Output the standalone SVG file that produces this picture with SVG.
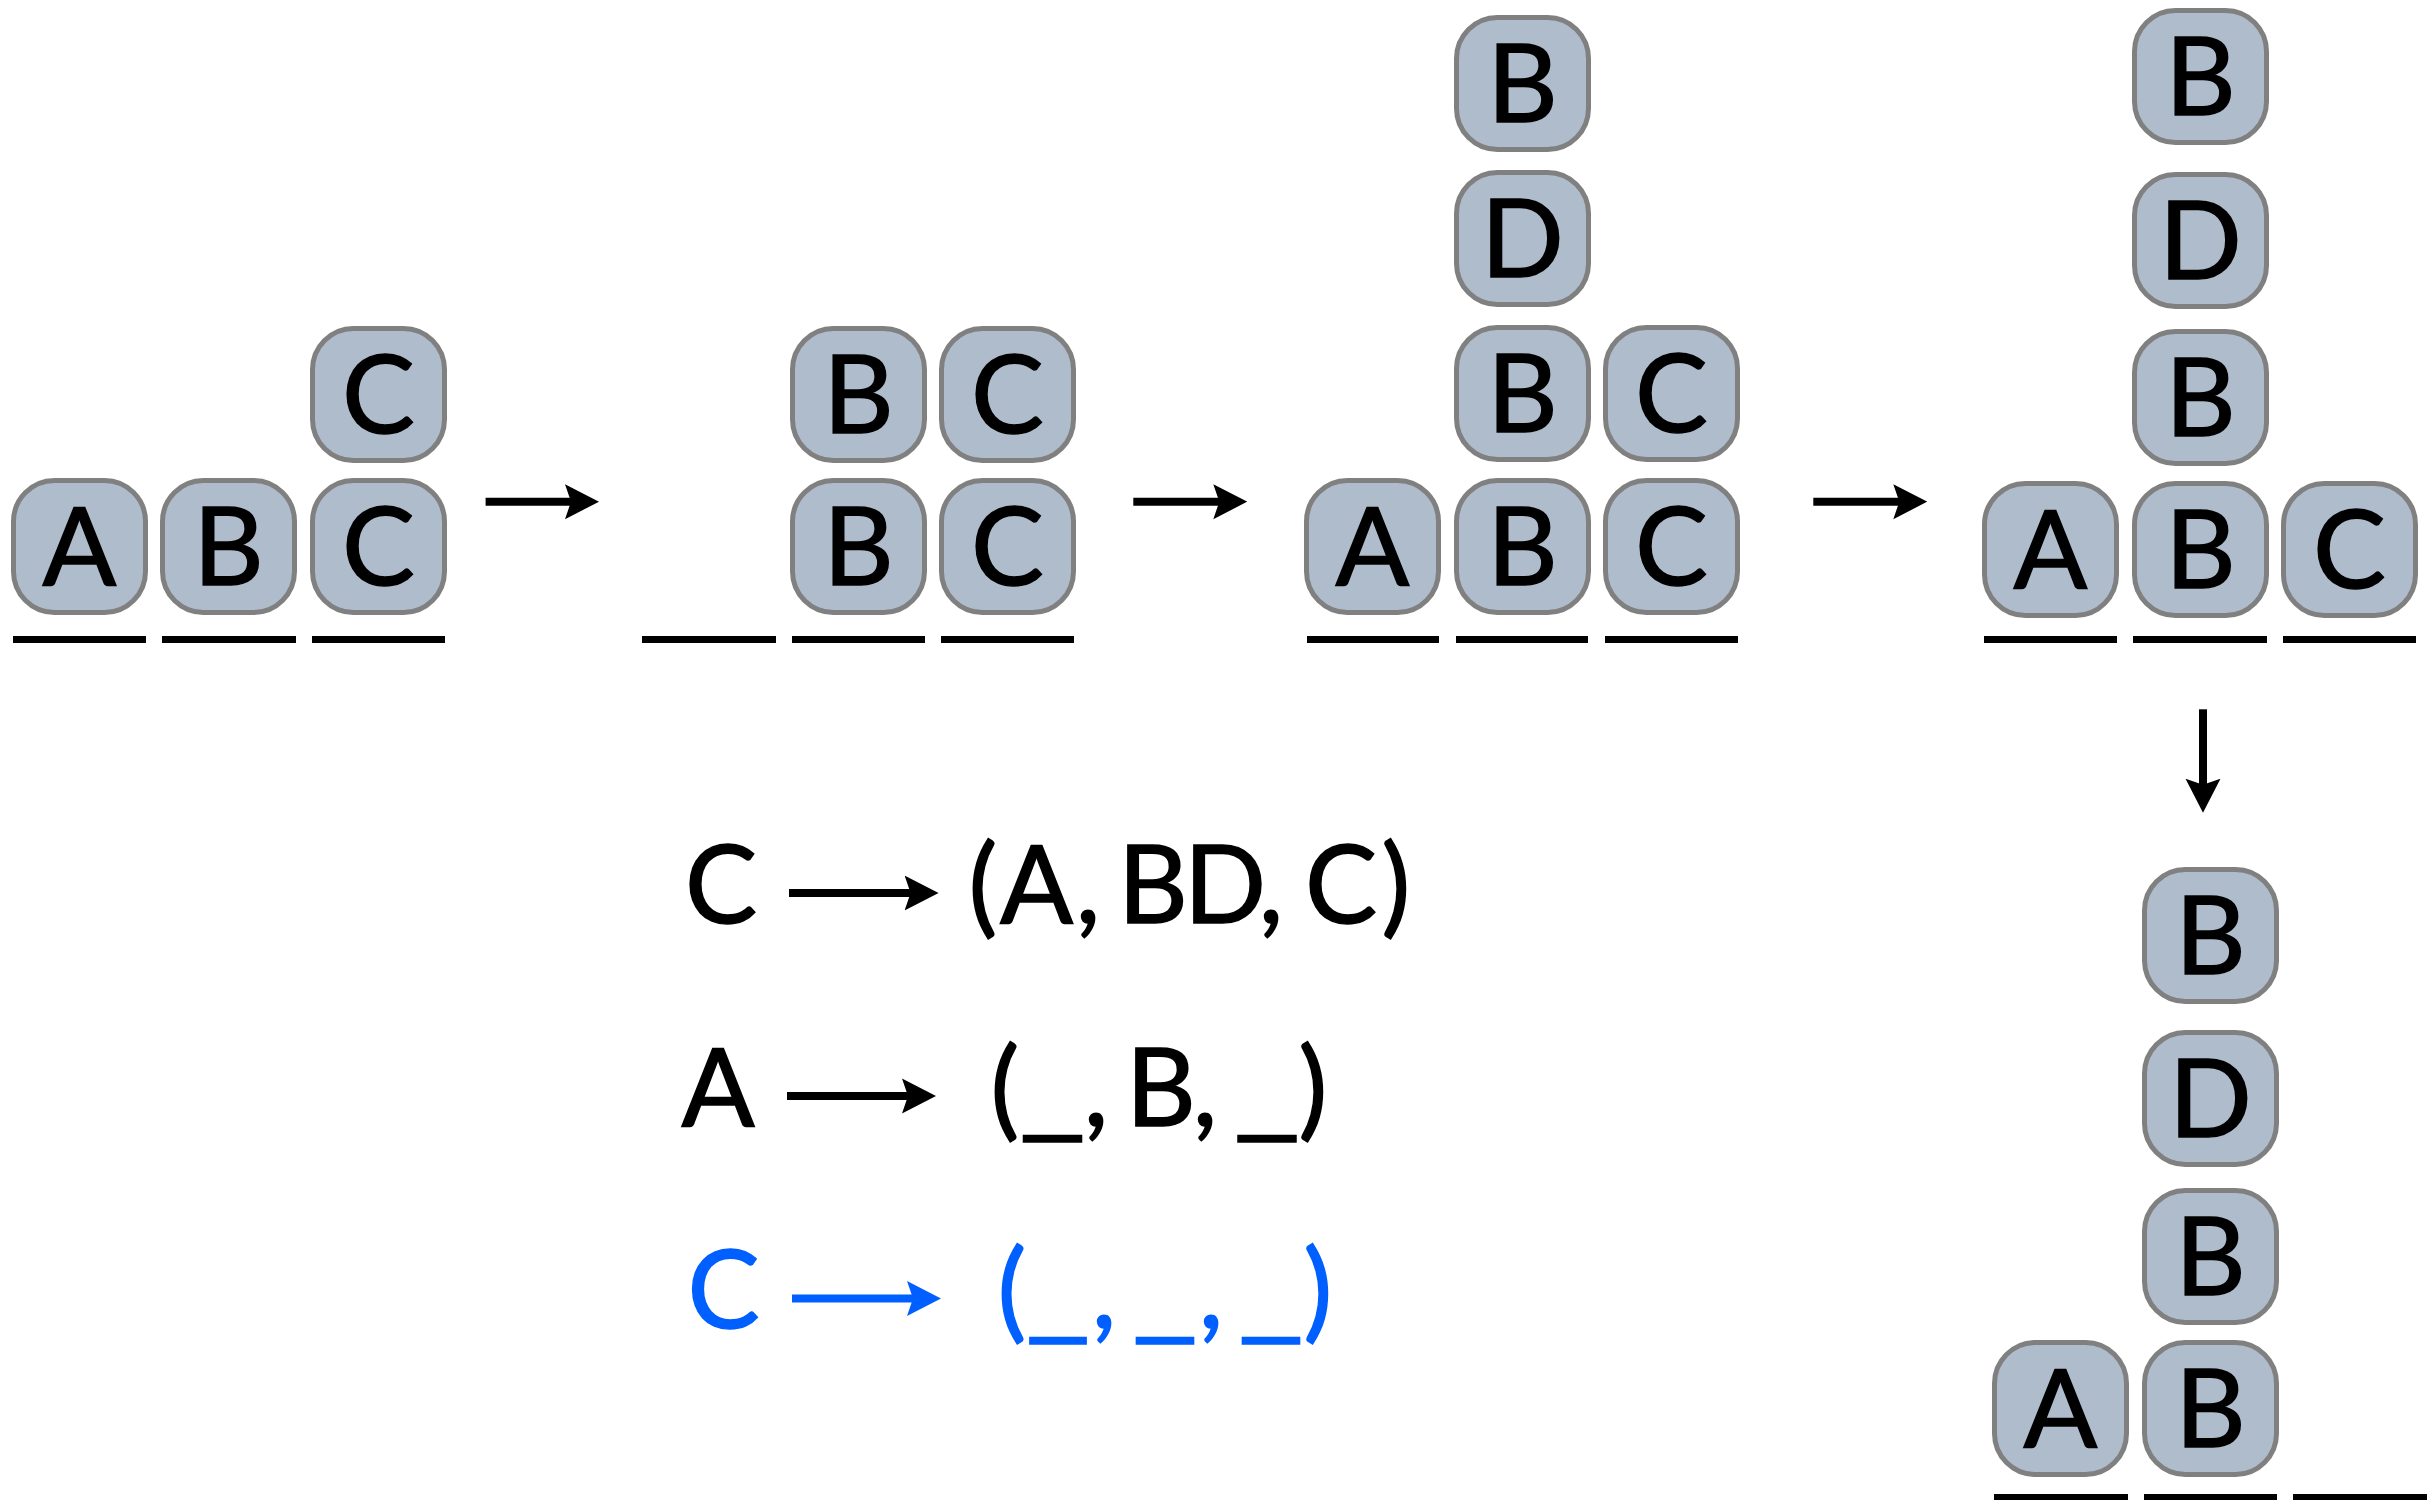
<svg xmlns="http://www.w3.org/2000/svg" width="2432" height="1500" viewBox="0 0 2432 1500">
<style>
.box rect{fill:#AFBCCB;stroke:#808080;stroke-width:5}
.box text{font-family:Lato,"Open Sans","Liberation Sans",sans-serif;font-size:109px;fill:#000;stroke:#000;stroke-width:1.5;text-anchor:middle}
.slot{fill:#000}
.eq{font-family:Lato,"Open Sans","Liberation Sans",sans-serif;font-size:108px;text-anchor:middle;stroke-width:1.5}
.blk{fill:#000;stroke:#000}
.blue{fill:#005FFF;stroke:#005FFF}
.arr{stroke:#000;stroke-width:8;fill:none}
.arrb{stroke:#005FFF;stroke-width:8;fill:none}
</style>
<defs>
<marker id="ah" viewBox="-34 -18 34 36" refX="-26" refY="0" markerWidth="34" markerHeight="36" markerUnits="userSpaceOnUse" orient="auto">
<path d="M0,0 L-34,-17.5 L-28,0 L-34,17.5 Z" fill="#000"/>
</marker>
<marker id="ahb" viewBox="-34 -18 34 36" refX="-26" refY="0" markerWidth="34" markerHeight="36" markerUnits="userSpaceOnUse" orient="auto">
<path d="M0,0 L-34,-17.5 L-28,0 L-34,17.5 Z" fill="#005FFF"/>
</marker>
</defs>
<rect width="2432" height="1500" fill="#fff"/>

<!-- Stage 1 -->
<g id="s1-slots" class="slot">
<rect x="13" y="636" width="133" height="7"/><rect x="162" y="636" width="134" height="7"/><rect x="312" y="636" width="133" height="7"/>
</g>
<g id="s1-A" class="box" transform="translate(11,478)"><rect x="2.5" y="2.5" width="132" height="132" rx="41"/><text x="68.5" y="107">A</text></g>
<g id="s1-B" class="box" transform="translate(160,478)"><rect x="2.5" y="2.5" width="132" height="132" rx="41"/><text x="68.5" y="107">B</text></g>
<g id="s1-C1" class="box" transform="translate(310,478)"><rect x="2.5" y="2.5" width="132" height="132" rx="41"/><text x="68.5" y="107">C</text></g>
<g id="s1-C2" class="box" transform="translate(310,326)"><rect x="2.5" y="2.5" width="132" height="132" rx="41"/><text x="68.5" y="107">C</text></g>

<!-- Stage 2 -->
<g id="s2-slots" class="slot">
<rect x="642" y="636" width="134" height="7"/><rect x="792" y="636" width="133" height="7"/><rect x="941" y="636" width="133" height="7"/>
</g>
<g id="s2-B1" class="box" transform="translate(790,478)"><rect x="2.5" y="2.5" width="132" height="132" rx="41"/><text x="68.5" y="107">B</text></g>
<g id="s2-C1" class="box" transform="translate(939,478)"><rect x="2.5" y="2.5" width="132" height="132" rx="41"/><text x="68.5" y="107">C</text></g>
<g id="s2-B2" class="box" transform="translate(790,326)"><rect x="2.5" y="2.5" width="132" height="132" rx="41"/><text x="68.5" y="107">B</text></g>
<g id="s2-C2" class="box" transform="translate(939,326)"><rect x="2.5" y="2.5" width="132" height="132" rx="41"/><text x="68.5" y="107">C</text></g>

<!-- Stage 3 -->
<g id="s3-slots" class="slot">
<rect x="1307" y="636" width="132" height="7"/><rect x="1456" y="636" width="132" height="7"/><rect x="1605" y="636" width="133" height="7"/>
</g>
<g id="s3-A" class="box" transform="translate(1304,478)"><rect x="2.5" y="2.5" width="132" height="132" rx="41"/><text x="68.5" y="107">A</text></g>
<g id="s3-B1" class="box" transform="translate(1454,478)"><rect x="2.5" y="2.5" width="132" height="132" rx="41"/><text x="68.5" y="107">B</text></g>
<g id="s3-C1" class="box" transform="translate(1603,478)"><rect x="2.5" y="2.5" width="132" height="132" rx="41"/><text x="68.5" y="107">C</text></g>
<g id="s3-B2" class="box" transform="translate(1454,325)"><rect x="2.5" y="2.5" width="132" height="132" rx="41"/><text x="68.5" y="107">B</text></g>
<g id="s3-C2" class="box" transform="translate(1603,325)"><rect x="2.5" y="2.5" width="132" height="132" rx="41"/><text x="68.5" y="107">C</text></g>
<g id="s3-D" class="box" transform="translate(1454,170)"><rect x="2.5" y="2.5" width="132" height="132" rx="41"/><text x="68.5" y="107">D</text></g>
<g id="s3-B3" class="box" transform="translate(1454,15)"><rect x="2.5" y="2.5" width="132" height="132" rx="41"/><text x="68.5" y="107">B</text></g>

<!-- Stage 4 -->
<g id="s4-slots" class="slot">
<rect x="1984" y="636" width="133" height="7"/><rect x="2133" y="636" width="134" height="7"/><rect x="2283" y="636" width="133" height="7"/>
</g>
<g id="s4-A" class="box" transform="translate(1982,481)"><rect x="2.5" y="2.5" width="132" height="132" rx="41"/><text x="68.5" y="107">A</text></g>
<g id="s4-B1" class="box" transform="translate(2132,481)"><rect x="2.5" y="2.5" width="132" height="132" rx="41"/><text x="68.5" y="107">B</text></g>
<g id="s4-C" class="box" transform="translate(2281,481)"><rect x="2.5" y="2.5" width="132" height="132" rx="41"/><text x="68.5" y="107">C</text></g>
<g id="s4-B2" class="box" transform="translate(2132,329)"><rect x="2.5" y="2.5" width="132" height="132" rx="41"/><text x="68.5" y="107">B</text></g>
<g id="s4-D" class="box" transform="translate(2132,172)"><rect x="2.5" y="2.5" width="132" height="132" rx="41"/><text x="68.5" y="107">D</text></g>
<g id="s4-B3" class="box" transform="translate(2132,8)"><rect x="2.5" y="2.5" width="132" height="132" rx="41"/><text x="68.5" y="107">B</text></g>

<!-- Stage 5 -->
<g id="s5-slots" class="slot">
<rect x="1994" y="1494" width="134" height="7"/><rect x="2144" y="1494" width="133" height="7"/><rect x="2293" y="1494" width="134" height="7"/>
</g>
<g id="s5-A" class="box" transform="translate(1992,1340)"><rect x="2.5" y="2.5" width="132" height="132" rx="41"/><text x="68.5" y="107">A</text></g>
<g id="s5-B1" class="box" transform="translate(2142,1340)"><rect x="2.5" y="2.5" width="132" height="132" rx="41"/><text x="68.5" y="107">B</text></g>
<g id="s5-B2" class="box" transform="translate(2142,1188)"><rect x="2.5" y="2.5" width="132" height="132" rx="41"/><text x="68.5" y="107">B</text></g>
<g id="s5-D" class="box" transform="translate(2142,1030)"><rect x="2.5" y="2.5" width="132" height="132" rx="41"/><text x="68.5" y="107">D</text></g>
<g id="s5-B3" class="box" transform="translate(2142,867)"><rect x="2.5" y="2.5" width="132" height="132" rx="41"/><text x="68.5" y="107">B</text></g>

<!-- Equations -->
<g id="eq1">
<text class="eq blk" x="721" y="923">C</text>
<text class="eq blk" x="983 1036.5 1088 1105 1153 1225 1271 1290 1341 1396" y="923">(A, BD, C)</text>
</g>
<g id="eq2">
<text class="eq blk" x="718" y="1126">A</text>
<text class="eq blk" y="1126"><tspan x="1005">(</tspan><tspan x="1052.5" textLength="67" lengthAdjust="spacingAndGlyphs">_</tspan><tspan x="1096">,</tspan><tspan x="1112"> </tspan><tspan x="1161">B</tspan><tspan x="1205">,</tspan><tspan x="1220"> </tspan><tspan x="1267" textLength="67" lengthAdjust="spacingAndGlyphs">_</tspan><tspan x="1313">)</tspan></text>
</g>
<g id="eq3">
<text class="eq blue" x="723.5" y="1328">C</text>
<text class="eq blue" y="1328"><tspan x="1012">(</tspan><tspan x="1058" textLength="65" lengthAdjust="spacingAndGlyphs">_</tspan><tspan x="1104">,</tspan><tspan x="1115"> </tspan><tspan x="1165" textLength="66" lengthAdjust="spacingAndGlyphs">_</tspan><tspan x="1211">,</tspan><tspan x="1222"> </tspan><tspan x="1271" textLength="66" lengthAdjust="spacingAndGlyphs">_</tspan><tspan x="1318">)</tspan></text>
</g>

<!-- Connectors -->
<g id="connectors">
<line class="arr" x1="485.6" y1="501.7" x2="573" y2="501.7" marker-end="url(#ah)"/>
<line class="arr" x1="1133.3" y1="501.7" x2="1221.3" y2="501.7" marker-end="url(#ah)"/>
<line class="arr" x1="1813.3" y1="501.7" x2="1901.3" y2="501.7" marker-end="url(#ah)"/>
<line class="arr" x1="2203" y1="709.3" x2="2203" y2="786.7" marker-end="url(#ah)"/>
<line class="arr" x1="789" y1="893" x2="912.6" y2="893" marker-end="url(#ah)"/>
<line class="arr" x1="787" y1="1096" x2="910" y2="1096" marker-end="url(#ah)"/>
<line class="arrb" x1="792" y1="1298.6" x2="915" y2="1298.6" marker-end="url(#ahb)"/>
</g>
</svg>
